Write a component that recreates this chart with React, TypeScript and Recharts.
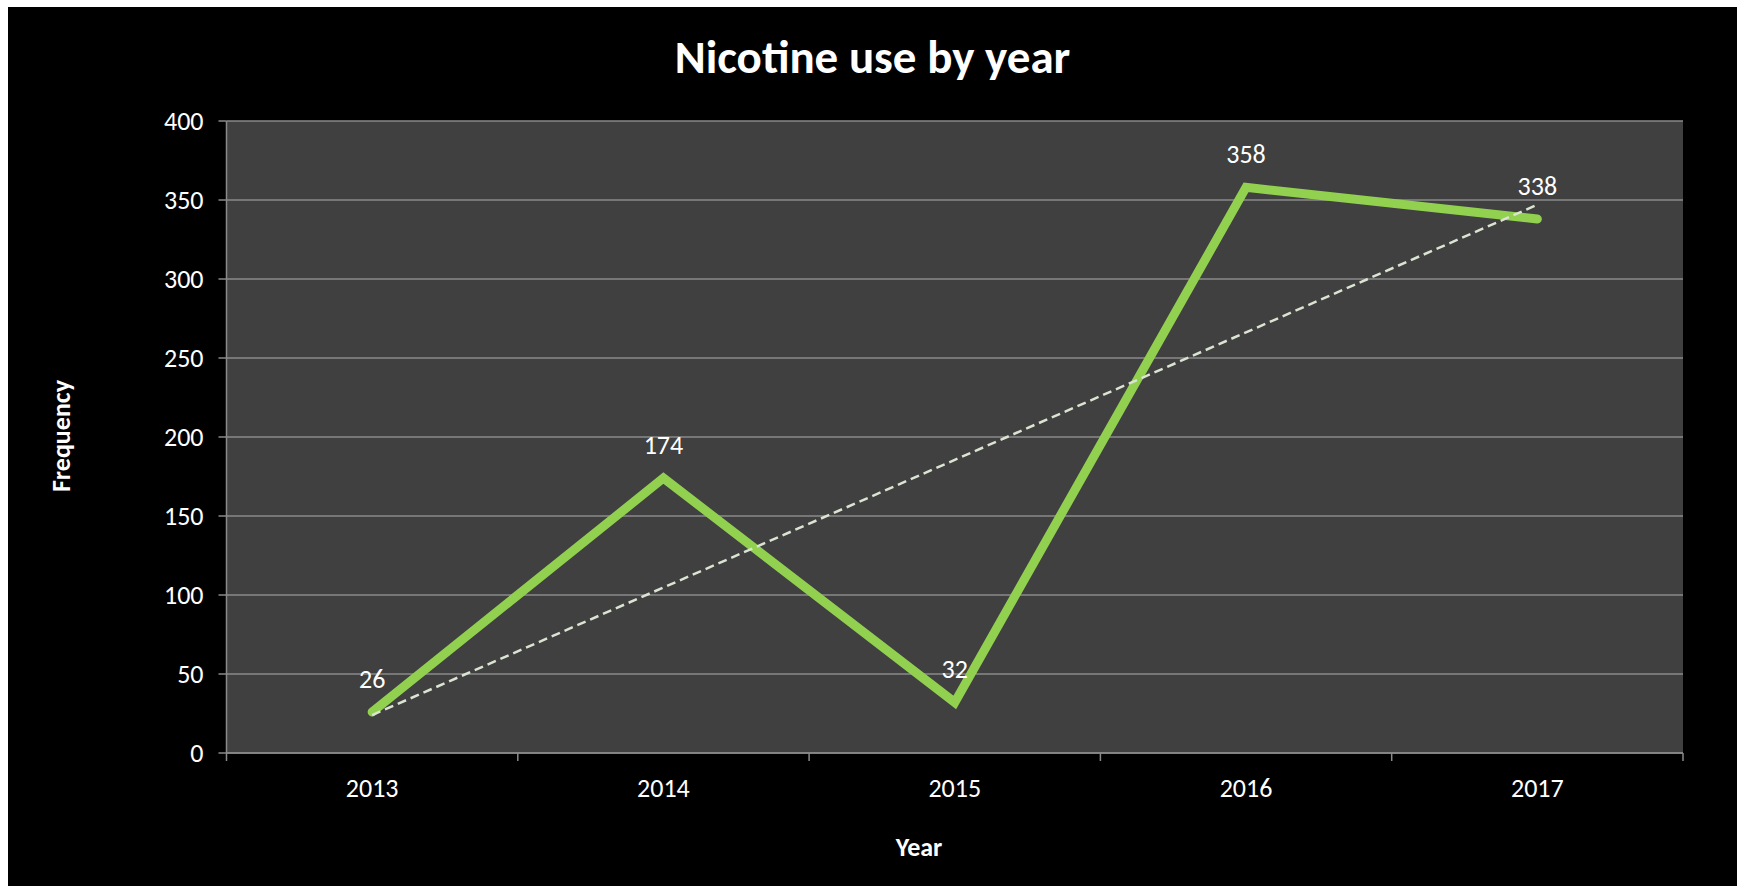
import React from 'react';
import { LineChart, Line, XAxis, YAxis, CartesianGrid, LabelList } from 'recharts';

const years = [2013, 2014, 2015, 2016, 2017];
const nicotine = [26, 174, 32, 358, 338];
const trend = [24, null, null, null, 347];
const yTicks = [0, 50, 100, 150, 200, 250, 300, 350, 400];

const data = years.map((year, i) => ({ year, nicotine: nicotine[i], trend: trend[i] }));
// tick marks sit between the categories, like excel does
const edges = [...years.map((y) => y - 0.5), years[years.length - 1] + 0.5];

const FONT = 'Carlito, Calibri, Lato, sans-serif';
const W = 1729;
const H = 879;

export default function App() {
  return (
    <div style={{ position: 'absolute', left: 8, top: 7, width: W, height: H, background: '#000', fontFamily: FONT }}>
      <div style={{ position: 'absolute', left: 0, width: W, top: 27, lineHeight: 1, textAlign: 'center', color: '#fff', fontWeight: 700, fontSize: 47 }}>
        Nicotine use by year
      </div>
      <div style={{ position: 'absolute', left: 911 - 100, width: 200, top: 827, lineHeight: 1, textAlign: 'center', color: '#fff', fontWeight: 700, fontSize: 26 }}>
        Year
      </div>
      <div
        style={{
          position: 'absolute', left: 53 - 100, top: 429 - 13, width: 200, lineHeight: 1, textAlign: 'center',
          color: '#fff', fontWeight: 700, fontSize: 26, transform: 'rotate(-90deg)',
        }}
      >
        Frequency
      </div>
      <LineChart width={W} height={H} data={data} margin={{ top: 114, right: 54, left: 0, bottom: 92 }}>
        <CartesianGrid vertical={false} fill="#404040" stroke="#8a8a8a" strokeWidth={1.5} />
        {/* axis line + boundary ticks, series bind to this one */}
        <XAxis
          type="number"
          dataKey="year"
          domain={[edges[0], edges[edges.length - 1]]}
          ticks={edges}
          allowDataOverflow
          tickFormatter={() => ''}
          tickSize={8}
          height={1}
          axisLine={{ stroke: '#8a8a8a', strokeWidth: 1.5 }}
          tickLine={{ stroke: '#8a8a8a', strokeWidth: 1.5 }}
        />
        {/* year labels only */}
        <XAxis
          xAxisId="labels"
          type="number"
          dataKey="year"
          domain={[edges[0], edges[edges.length - 1]]}
          ticks={years}
          allowDataOverflow
          axisLine={false}
          tickLine={false}
          tickSize={0}
          tickMargin={25}
          height={40}
          tick={{ fill: '#fff', fontSize: 26, fontFamily: FONT }}
        />
        <YAxis
          width={218.5}
          domain={[0, 400]}
          ticks={yTicks}
          tickSize={8}
          tickMargin={15}
          axisLine={{ stroke: '#8a8a8a', strokeWidth: 1.5 }}
          tickLine={{ stroke: '#8a8a8a', strokeWidth: 1.5 }}
          tick={{ fill: '#fff', fontSize: 26, fontFamily: FONT }}
        />
        <Line
          type="linear"
          dataKey="nicotine"
          stroke="#92d050"
          strokeWidth={9}
          strokeLinecap="round"
          strokeLinejoin="miter"
          dot={false}
          activeDot={false}
          isAnimationActive={false}
        >
          <LabelList dataKey="nicotine" position="top" offset={24} fill="#fff" fontSize={26} fontFamily={FONT} />
        </Line>
        <Line
          type="linear"
          dataKey="trend"
          stroke="#dbe4d2"
          strokeWidth={2.5}
          strokeDasharray="9 5"
          connectNulls
          dot={false}
          activeDot={false}
          isAnimationActive={false}
        />
      </LineChart>
    </div>
  );
}
